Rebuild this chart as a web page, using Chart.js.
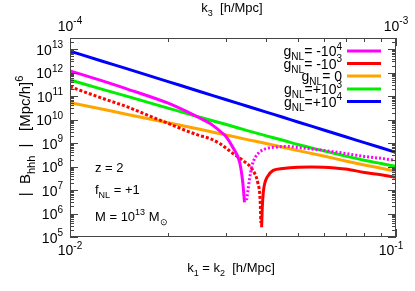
<!DOCTYPE html>
<html>
<head>
<meta charset="utf-8">
<script src="https://cdn.jsdelivr.net/npm/chart.js@4"></script>
<style>
  html, body { margin: 0; padding: 0; background: #fff; }
</style>
</head>
<body>
<canvas id="chart" width="415" height="291"></canvas>
<script>
// k1 = k2 grid [h/Mpc] for the smooth curves
const kGrid = [0.01, 0.0125, 0.015, 0.02, 0.025, 0.03, 0.035, 0.04, 0.045, 0.05, 0.06, 0.07, 0.08, 0.09, 0.1];
const bPlus1e4 = [8.3e12, 3.16e12, 1.45e12, 4.17e11, 1.58e11, 7.24e10, 3.72e10, 2.09e10, 1.26e10, 7.94e9, 3.63e9, 1.86e9, 1.05e9, 6.31e8, 3.98e8];
const bPlus1e3 = [4.9e11, 2.0e11, 9.77e10, 3.09e10, 1.26e10, 6.31e9, 3.39e9, 2.04e9, 1.32e9, 8.71e8, 4.68e8, 2.82e8, 1.86e8, 1.35e8, 1.02e8];
const bZero = [5.25e10, 2.82e10, 1.66e10, 7.41e9, 3.89e9, 2.24e9, 1.41e9, 9.55e8, 6.61e8, 4.79e8, 2.82e8, 1.74e8, 1.17e8, 8.51e7, 6.31e7];

// g_NL = -1e4 : solid before the sign change, dotted after
const kMinus1e4Neg = [0.01, 0.0125, 0.015, 0.02, 0.023, 0.025, 0.027, 0.029, 0.030, 0.0316, 0.0332, 0.0339, 0.0343];
const bMinus1e4Neg = [1.2e12, 4.57e11, 2.0e11, 5.01e10, 2.09e10, 1.17e10, 6.61e9, 3.02e9, 2.0e9, 6.46e8, 1.38e8, 1.95e7, 3.02e6];
const kMinus1e4Pos = [0.0348, 0.035, 0.0355, 0.0362, 0.037, 0.038, 0.040, 0.043, 0.046, 0.050, 0.055, 0.060, 0.070, 0.080, 0.090, 0.100];
const bMinus1e4Pos = [3.72e6, 6.31e6, 2.63e7, 1.12e8, 2.45e8, 3.98e8, 5.89e8, 6.76e8, 7.24e8, 6.46e8, 5.62e8, 4.9e8, 3.63e8, 2.69e8, 2.24e8, 1.82e8];

// g_NL = -1e3 : dotted before the sign change, solid after
const kMinus1e3Pos = [0.01, 0.0125, 0.015, 0.0175, 0.02, 0.023, 0.025, 0.0269, 0.0288, 0.0316, 0.0339, 0.0364, 0.0377, 0.0383, 0.0385];
const bMinus1e3Pos = [2.51e11, 8.32e10, 3.47e10, 1.45e10, 6.92e9, 3.16e9, 2.09e9, 1.55e9, 9.55e8, 3.63e8, 1.82e8, 6.92e7, 1.95e7, 3.72e6, 4.0e5];
const kMinus1e3Neg = [0.0387, 0.0389, 0.0392, 0.0396, 0.0402, 0.042, 0.045, 0.05, 0.055, 0.06, 0.065, 0.07, 0.08, 0.09, 0.1];
const bMinus1e3Neg = [2.6e5, 2.0e6, 8.9e6, 2.0e7, 3.47e7, 6.92e7, 8.32e7, 9.33e7, 9.55e7, 9.33e7, 8.71e7, 7.94e7, 5.62e7, 4.47e7, 3.47e7];

const yDecades = [5, 6, 7, 8, 9, 10, 11, 12, 13];

const FONT = '"Liberation Sans", Arial, sans-serif';
const AXIS = '#444';

function pts(xs, ys) { return xs.map((x, i) => ({ x: x, y: ys[i] })); }

// draws text made of [string, 'n' | 'sub' | 'sup'] pieces
function rich(ctx, parts, x, y, size, align) {
  const small = Math.round(size * 0.72);
  const fontOf = m => (m === 'n' ? size : small) + 'px ' + FONT;
  let total = 0;
  const widths = parts.map(p => { ctx.font = fontOf(p[1]); const w = ctx.measureText(p[0]).width; total += w; return w; });
  let cx = align === 'right' ? x - total : align === 'center' ? x - total / 2 : x;
  parts.forEach((p, i) => {
    ctx.font = fontOf(p[1]);
    const dy = p[1] === 'sub' ? size * 0.3 : p[1] === 'sup' ? -size * 0.45 : 0;
    ctx.fillText(p[0], cx, y + dy);
    cx += widths[i];
  });
}

const legendItems = [
  { color: '#ff00ff', parts: [['g', 'n'], ['NL', 'sub'], ['= -10', 'n'], ['4', 'sup']] },
  { color: '#ff0000', parts: [['g', 'n'], ['NL', 'sub'], ['= -10', 'n'], ['3', 'sup']] },
  { color: '#ffa500', parts: [['g', 'n'], ['NL', 'sub'], ['= 0', 'n']] },
  { color: '#00ee00', parts: [['g', 'n'], ['NL', 'sub'], ['=+10', 'n'], ['3', 'sup']] },
  { color: '#0000ff', parts: [['g', 'n'], ['NL', 'sub'], ['=+10', 'n'], ['4', 'sup']] }
];

const gnuplotFrame = {
  id: 'gnuplotFrame',
  afterDraw(chart) {
    const ctx = chart.ctx;
    const a = chart.chartArea;
    const xs = chart.scales.x, x2 = chart.scales.x2, ys = chart.scales.y;
    ctx.save();
    ctx.strokeStyle = AXIS;
    ctx.lineWidth = 1;
    ctx.strokeRect(a.left + 0.5, a.top + 0.5, a.right - a.left - 1, a.bottom - a.top - 1);

    ctx.beginPath();
    // y ticks, left and right
    for (let d = 5; d <= 13; d++) {
      for (let m = 1; m <= 9; m++) {
        const v = m * Math.pow(10, d);
        if (v > ys.max) break;
        const py = Math.round(ys.getPixelForValue(v)) + 0.5;
        const len = m === 1 ? 8 : 4;
        ctx.moveTo(a.left, py); ctx.lineTo(a.left + len, py);
        ctx.moveTo(a.right, py); ctx.lineTo(a.right - len, py);
      }
    }
    // x ticks bottom (k1) and top (k3)
    for (let m = 1; m <= 10; m++) {
      const pb = Math.round(xs.getPixelForValue(m * 0.01)) + 0.5;
      const pt = Math.round(x2.getPixelForValue(m * 1e-4)) + 0.5;
      const len = (m === 1 || m === 10) ? 8 : 4;
      ctx.moveTo(pb, a.bottom); ctx.lineTo(pb, a.bottom - len);
      ctx.moveTo(pt, a.top); ctx.lineTo(pt, a.top + len);
    }
    ctx.stroke();

    ctx.fillStyle = '#000';
    ctx.textBaseline = 'alphabetic';
    // y tick labels
    yDecades.forEach(d => {
      const py = ys.getPixelForValue(Math.pow(10, d));
      rich(ctx, [['10', 'n'], [String(d), 'sup']], a.left - 7, py + 5.5, 14, 'right');
    });
    // x tick labels
    rich(ctx, [['10', 'n'], ['-2', 'sup']], xs.getPixelForValue(0.01), 255, 14, 'center');
    rich(ctx, [['10', 'n'], ['-1', 'sup']], xs.getPixelForValue(0.1) - 5, 255, 14, 'center');
    rich(ctx, [['10', 'n'], ['-4', 'sup']], x2.getPixelForValue(1e-4), 30.5, 14, 'center');
    rich(ctx, [['10', 'n'], ['-3', 'sup']], x2.getPixelForValue(1e-3), 30.5, 14, 'center');

    // axis titles
    rich(ctx, [['k', 'n'], ['3', 'sub'], ['  [h/Mpc]', 'n']], 232, 12, 13, 'center');
    rich(ctx, [['k', 'n'], ['1', 'sub'], [' = k', 'n'], ['2', 'sub'], ['  [h/Mpc]', 'n']], 231, 272, 13, 'center');
    ctx.save();
    ctx.translate(30, 136);
    ctx.rotate(-Math.PI / 2);
    rich(ctx, [['|  B', 'n'], ['hhh', 'sub'], ['  |   [Mpc/h]', 'n'], ['6', 'sup']], 0, 0, 15, 'center');
    ctx.restore();

    // annotations
    rich(ctx, [['z = 2', 'n']], 95, 172, 13, 'left');
    rich(ctx, [['f', 'n'], ['NL', 'sub'], [' = +1', 'n']], 95, 194, 13, 'left');
    rich(ctx, [['M = 10', 'n'], ['13', 'sup'], [' M', 'n'], ['\u2299', 'sub']], 95, 221, 13, 'left');

    // legend
    const rows = [51, 63.5, 76, 89, 101.5];
    legendItems.forEach((it, i) => {
      rich(ctx, it.parts, 342, rows[i] + 5, 14, 'right');
      ctx.strokeStyle = it.color;
      ctx.lineWidth = 3;
      ctx.beginPath();
      ctx.moveTo(347, rows[i]); ctx.lineTo(381, rows[i]);
      ctx.stroke();
    });
    ctx.restore();
  }
};

const line = (data, color, dash) => ({
  data: data,
  borderColor: color,
  borderWidth: 3,
  borderDash: dash || [],
  pointRadius: 0,
  cubicInterpolationMode: 'monotone',
  fill: false
});

new Chart(document.getElementById('chart').getContext('2d'), {
  type: 'line',
  data: {
    datasets: [
      line(pts(kMinus1e4Neg, bMinus1e4Neg), '#ff00ff'),
      line(pts(kMinus1e4Pos, bMinus1e4Pos), '#ff00ff', [2, 2]),
      line(pts(kMinus1e3Pos, bMinus1e3Pos), '#ff0000', [3, 2]),
      line(pts(kMinus1e3Neg, bMinus1e3Neg), '#ff0000'),
      line(pts(kGrid, bZero), '#ffa500'),
      line(pts(kGrid, bPlus1e3), '#00ee00'),
      line(pts(kGrid, bPlus1e4), '#0000ff')
    ]
  },
  options: {
    responsive: false,
    animation: false,
    layout: { padding: { left: 70, right: 19, top: 38, bottom: 54 } },
    plugins: { legend: { display: false }, tooltip: { enabled: false } },
    scales: {
      x: { type: 'logarithmic', min: 0.01, max: 0.1, display: false },
      x2: { type: 'logarithmic', position: 'top', min: 1e-4, max: 1e-3, display: false },
      y: { type: 'logarithmic', min: 1e5, max: 3e13, display: false }
    }
  },
  plugins: [gnuplotFrame]
});
</script>
</body>
</html>
